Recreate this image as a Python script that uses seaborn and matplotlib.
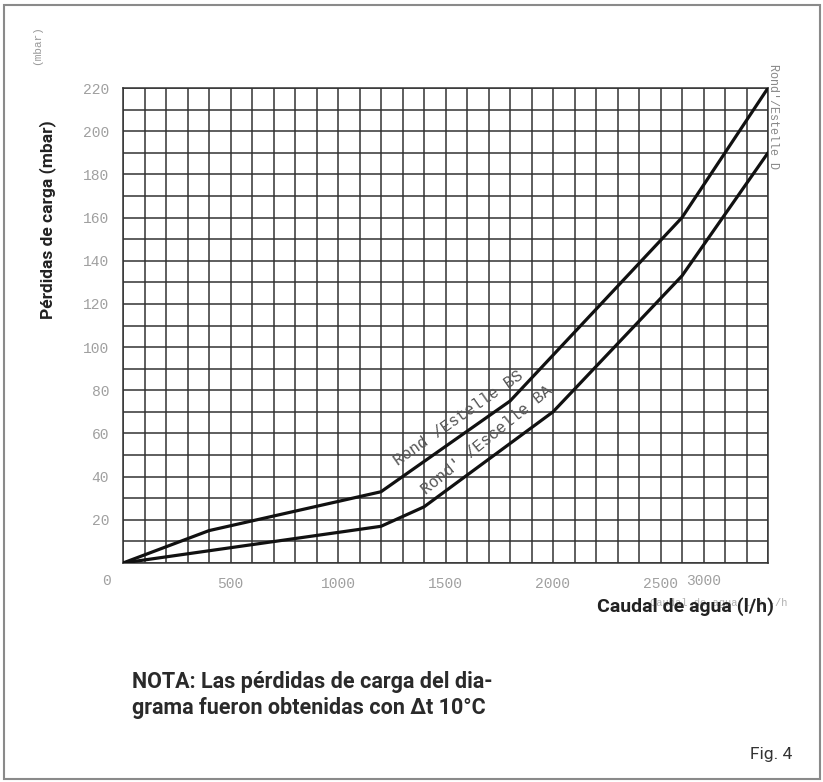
import matplotlib
matplotlib.use("Agg")
import matplotlib.pyplot as plt
import matplotlib.transforms as mtransforms
from matplotlib.patches import Rectangle
import numpy as np
import pandas as pd
import seaborn as sns

# ---------------- data ----------------
caudal_bs = [0, 400, 1200, 1800, 2600, 3000]
perdida_bs = [0, 15, 33, 75, 160, 220]
caudal_ba = [0, 1200, 1400, 2000, 2600, 3000]
perdida_ba = [0, 17, 26, 70, 133, 190]

x_ticks = [500, 1000, 1500, 2000, 2500]
x_ticklabels = ["500", "1000", "1500", "2000", "2500"]
y_ticks = [20, 40, 60, 80, 100, 120, 140, 160, 180, 200, 220]
y_ticklabels = [str(v) for v in y_ticks]

label_bs = "Rond /Estelle BS"
label_ba = "Rond' /Escelle BA"
label_d = "Rond'/Estelle D"

W, H = 823, 782

sns.set_style("white")
plt.rcParams["font.family"] = ["Roboto", "DejaVu Sans"]

fig = plt.figure(figsize=(W / 100, H / 100), dpi=100)

def fx(px):
    return px / W

def fy(py):
    return 1 - py / H

ax = fig.add_axes([fx(123), fy(563), fx(768) - fx(123), fy(88) - fy(563)])

grid_c = "#333333"
ax.set_xlim(0, 3000)
ax.set_ylim(0, 220)

# grid lines every 100 l/h and every 10 mbar
for gx in np.arange(0, 3001, 100):
    ax.axvline(gx, color=grid_c, linewidth=1.1, zorder=1)
for gy in np.arange(0, 221, 10):
    ax.axhline(gy, color=grid_c, linewidth=1.1, zorder=1)

df_bs = pd.DataFrame({"caudal": caudal_bs, "perdida": perdida_bs})
df_ba = pd.DataFrame({"caudal": caudal_ba, "perdida": perdida_ba})
sns.lineplot(data=df_bs, x="caudal", y="perdida", sort=False, color="#111111",
             linewidth=2.3, ax=ax, zorder=5)
sns.lineplot(data=df_ba, x="caudal", y="perdida", sort=False, color="#111111",
             linewidth=2.3, ax=ax, zorder=5)

for s in ax.spines.values():
    s.set_color(grid_c)
    s.set_linewidth(1.1)

mono = "Liberation Mono"
ax.set_xticks([0] + x_ticks + [3000])
ax.set_xticklabels([""] + x_ticklabels + [""], family=mono, fontsize=10.5, color="#a0a0a0")
ax.set_yticks(y_ticks)
ax.set_yticklabels(y_ticklabels, family=mono, fontsize=10.5, color="#a0a0a0")
ax.tick_params(axis="both", which="major", length=6, width=1.1, color=grid_c, pad=4)
ax.set_xlabel("")
ax.set_ylabel("")

# origin "0" and odd "3000" labels
trans = mtransforms.blended_transform_factory(ax.transData, fig.transFigure)
ax.text(-75, fy(581), "0", transform=trans, family=mono, fontsize=10.5,
        color="#a0a0a0", ha="center", va="center")
ax.text(2700, fy(581), "3000", transform=trans, family=mono, fontsize=10.5,
        color="#a0a0a0", ha="center", va="center")

# curve labels
ax.text(1560, 67, label_bs, family=mono, fontsize=11.5, color="#555555",
        rotation=35, rotation_mode="anchor", ha="center", va="center", zorder=6)
ax.text(1690, 57, label_ba, family=mono, fontsize=11.5, color="#555555",
        rotation=39, rotation_mode="anchor", ha="center", va="center", zorder=6)

# right side label
fig.text(fx(773), fy(116), label_d, family=mono, fontsize=8.5, color="#888888",
         rotation=270, ha="center", va="center")

# axis titles
fig.text(fx(48), fy(220), "Pérdidas de carga (mbar)", fontsize=12.5, weight="bold",
         color="#222222", rotation=90, ha="center", va="center")
fig.text(fx(37), fy(45), "(mbar)", family=mono, fontsize=8, color="#999999",
         rotation=90, ha="center", va="center")

fig.text(fx(788), fy(603), "Caudal de agua l/h -/h", family=mono, fontsize=7.5,
         color="#b0b0b0", ha="right", va="center")
fig.text(fx(597), fy(607), "Caudal de agua (l/h)", fontsize=14, weight="bold",
         color="#222222", ha="left", va="center")

# note
fig.text(fx(132), fy(682), "NOTA: Las pérdidas de carga del dia-", fontsize=15.5,
         weight="bold", color="#2a2a2a", ha="left", va="center")
fig.text(fx(132), fy(708), "grama fueron obtenidas con Δt 10°C", fontsize=15.5,
         weight="bold", color="#2a2a2a", ha="left", va="center")

fig.text(fx(750), fy(755), "Fig. 4", fontsize=12.5, color="#333333",
         ha="left", va="center")

# border
fig.patches.append(Rectangle((fx(4), fy(779)), fx(820) - fx(4), fy(5) - fy(779),
                             transform=fig.transFigure, fill=False,
                             edgecolor="#8a8a8a", linewidth=1.5))

fig.savefig("out.png", dpi=100)
